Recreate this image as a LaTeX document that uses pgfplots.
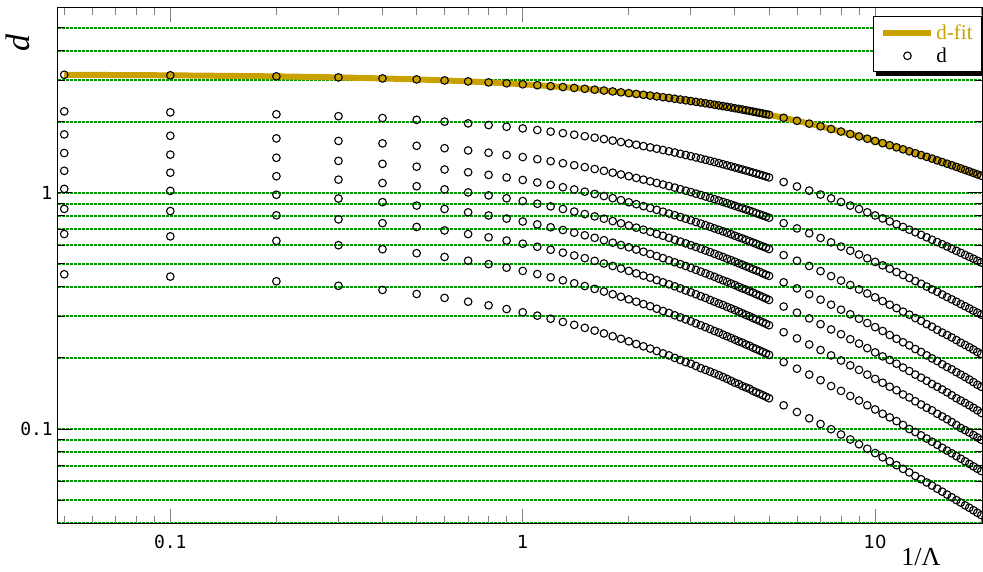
\documentclass[border=0pt]{standalone}
\usepackage{fontspec}
\setmainfont{Liberation Serif}
\newfontfamily\monofont{DejaVu Sans Mono}
\newfontfamily\labelsans{DejaVu Sans}
\usepackage{pgfplots}
\usepackage{pgfplotstable}
\pgfplotsset{compat=1.18}

\definecolor{dgold}{RGB}{201,162,0}
\definecolor{gridgreen}{RGB}{0,150,0}

% d for the nine levels (g = level fitted by d-fit)
\pgfplotstableread{
x g s2 s3 s4 s5 s6 s7 s8 s9
0.05 3.161 2.212 1.767 1.474 1.239 1.039 0.855 0.669 0.452
0.1 3.144 2.191 1.744 1.451 1.217 1.019 0.837 0.654 0.442
0.2 3.112 2.150 1.700 1.407 1.176 0.981 0.803 0.626 0.422
0.3 3.081 2.111 1.658 1.365 1.137 0.946 0.772 0.600 0.404
0.4 3.050 2.073 1.619 1.326 1.100 0.913 0.744 0.577 0.388
0.5 3.021 2.037 1.581 1.290 1.066 0.883 0.717 0.555 0.373
0.6 2.991 2.002 1.545 1.255 1.034 0.854 0.693 0.535 0.359
0.7 2.963 1.968 1.511 1.222 1.004 0.827 0.669 0.516 0.346
0.8 2.935 1.936 1.478 1.191 0.975 0.802 0.648 0.499 0.334
0.9 2.908 1.904 1.447 1.161 0.948 0.778 0.628 0.482 0.322
1.0 2.881 1.874 1.417 1.133 0.923 0.756 0.609 0.467 0.312
1.1 2.855 1.845 1.388 1.106 0.899 0.735 0.591 0.453 0.302
1.2 2.829 1.816 1.361 1.081 0.876 0.715 0.574 0.439 0.293
1.3 2.804 1.789 1.334 1.056 0.854 0.696 0.558 0.426 0.284
1.4 2.780 1.762 1.309 1.033 0.833 0.678 0.543 0.414 0.276
1.5 2.756 1.737 1.285 1.011 0.813 0.661 0.529 0.403 0.268
1.6 2.732 1.712 1.261 0.989 0.795 0.645 0.515 0.392 0.261
1.7 2.709 1.688 1.239 0.969 0.777 0.630 0.502 0.382 0.254
1.8 2.687 1.664 1.217 0.949 0.759 0.615 0.490 0.372 0.247
1.9 2.664 1.641 1.196 0.931 0.743 0.601 0.478 0.363 0.241
2.0 2.643 1.619 1.176 0.912 0.727 0.588 0.467 0.354 0.235
2.1 2.621 1.598 1.156 0.895 0.712 0.575 0.456 0.346 0.229
2.2 2.600 1.577 1.137 0.878 0.698 0.563 0.446 0.338 0.224
2.3 2.580 1.557 1.119 0.862 0.684 0.551 0.437 0.331 0.219
2.4 2.560 1.537 1.101 0.847 0.670 0.540 0.427 0.323 0.214
2.5 2.540 1.518 1.084 0.832 0.658 0.529 0.418 0.316 0.209
2.6 2.521 1.499 1.068 0.817 0.645 0.518 0.410 0.310 0.205
2.7 2.501 1.481 1.052 0.804 0.633 0.508 0.402 0.303 0.200
2.8 2.483 1.463 1.036 0.790 0.622 0.499 0.394 0.297 0.196
2.9 2.464 1.446 1.021 0.777 0.611 0.490 0.386 0.291 0.192
3.0 2.446 1.429 1.007 0.765 0.600 0.481 0.379 0.286 0.189
3.1 2.428 1.412 0.992 0.752 0.590 0.472 0.372 0.280 0.185
3.2 2.411 1.396 0.979 0.741 0.580 0.464 0.365 0.275 0.181
3.3 2.394 1.380 0.965 0.729 0.570 0.456 0.359 0.270 0.178
3.4 2.377 1.365 0.952 0.718 0.561 0.448 0.352 0.265 0.175
3.5 2.360 1.350 0.940 0.707 0.552 0.441 0.346 0.260 0.172
3.6 2.344 1.336 0.927 0.697 0.543 0.433 0.340 0.256 0.169
3.7 2.328 1.321 0.915 0.687 0.535 0.426 0.335 0.251 0.166
3.8 2.312 1.307 0.904 0.677 0.526 0.420 0.329 0.247 0.163
3.9 2.297 1.294 0.892 0.668 0.519 0.413 0.324 0.243 0.160
4.0 2.281 1.280 0.881 0.658 0.511 0.407 0.319 0.239 0.157
4.1 2.266 1.267 0.870 0.649 0.503 0.400 0.314 0.235 0.155
4.2 2.251 1.255 0.860 0.641 0.496 0.394 0.309 0.232 0.152
4.3 2.237 1.242 0.850 0.632 0.489 0.389 0.304 0.228 0.150
4.4 2.222 1.230 0.840 0.624 0.482 0.383 0.300 0.225 0.148
4.5 2.208 1.218 0.830 0.616 0.475 0.378 0.295 0.221 0.145
4.6 2.194 1.206 0.820 0.608 0.469 0.372 0.291 0.218 0.143
4.7 2.180 1.195 0.811 0.600 0.463 0.367 0.287 0.215 0.141
4.8 2.167 1.184 0.802 0.593 0.456 0.362 0.283 0.212 0.139
4.9 2.153 1.173 0.793 0.586 0.450 0.357 0.279 0.209 0.137
5.0 2.140 1.162 0.784 0.578 0.445 0.352 0.275 0.206 0.135
5.5 2.077 1.111 0.744 0.545 0.418 0.330 0.257 0.192 0.126
6.0 2.018 1.064 0.707 0.516 0.394 0.311 0.242 0.180 0.118
6.5 1.963 1.022 0.674 0.490 0.372 0.294 0.228 0.170 0.111
7.0 1.912 0.983 0.644 0.466 0.353 0.278 0.216 0.161 0.105
7.5 1.863 0.947 0.617 0.444 0.336 0.264 0.205 0.152 0.0998
8.0 1.817 0.914 0.592 0.425 0.320 0.252 0.195 0.145 0.0948
8.5 1.774 0.883 0.569 0.407 0.306 0.240 0.186 0.138 0.0903
9.0 1.733 0.854 0.548 0.390 0.293 0.230 0.178 0.132 0.0862
9.5 1.695 0.827 0.528 0.375 0.281 0.220 0.170 0.126 0.0825
10 1.658 0.802 0.510 0.361 0.270 0.211 0.163 0.121 0.0791
10.5 1.623 0.779 0.493 0.348 0.260 0.203 0.157 0.116 0.0759
11 1.590 0.757 0.477 0.336 0.250 0.196 0.151 0.112 0.0730
11.5 1.558 0.736 0.462 0.325 0.241 0.189 0.146 0.108 0.0703
12 1.528 0.717 0.449 0.314 0.233 0.182 0.140 0.104 0.0678
12.5 1.499 0.698 0.436 0.305 0.226 0.176 0.136 0.100 0.0655
13 1.472 0.681 0.423 0.295 0.218 0.170 0.131 0.0971 0.0633
13.5 1.445 0.664 0.412 0.287 0.212 0.165 0.127 0.0940 0.0613
14 1.420 0.648 0.401 0.278 0.205 0.160 0.123 0.0911 0.0594
14.5 1.396 0.633 0.390 0.271 0.199 0.155 0.120 0.0883 0.0576
15 1.372 0.619 0.381 0.263 0.194 0.151 0.116 0.0858 0.0559
15.5 1.350 0.606 0.371 0.256 0.188 0.147 0.113 0.0833 0.0543
16 1.328 0.593 0.362 0.250 0.183 0.143 0.110 0.0810 0.0528
16.5 1.308 0.580 0.354 0.244 0.179 0.139 0.107 0.0789 0.0514
17 1.288 0.568 0.346 0.238 0.174 0.135 0.104 0.0768 0.0500
17.5 1.268 0.557 0.338 0.232 0.170 0.132 0.101 0.0749 0.0488
18 1.250 0.546 0.331 0.227 0.166 0.129 0.0989 0.0730 0.0475
18.5 1.232 0.536 0.324 0.222 0.162 0.126 0.0966 0.0712 0.0464
19 1.214 0.526 0.317 0.217 0.158 0.123 0.0943 0.0695 0.0453
19.5 1.197 0.516 0.311 0.212 0.154 0.120 0.0921 0.0679 0.0442
20 1.181 0.507 0.305 0.208 0.151 0.117 0.0901 0.0664 0.0432
}\levels

\begin{document}
\begin{tikzpicture}
\path[use as bounding box] (-58pt,-48pt) rectangle (925pt,523pt);
\begin{axis}[
  at={(0pt,0pt)}, anchor=south west,
  scale only axis, width=924pt, height=515pt,
  xmode=log, ymode=log,
  xmin=0.048, xmax=20.1, ymin=0.04, ymax=6.06,
  xtick={0.1,1,10},
  xticklabels={{\monofont 0.1},{\labelsans 1},{\labelsans 10}},
  minor xtick={0.05,0.06,0.07,0.08,0.09,0.2,0.3,0.4,0.5,0.6,0.7,0.8,0.9,2,3,4,5,6,7,8,9,20},
  ytick={0.1,1},
  yticklabels={{\monofont 0.1},{\labelsans 1}},
  minor ytick={0.04,0.05,0.06,0.07,0.08,0.09,0.2,0.3,0.4,0.5,0.6,0.7,0.8,0.9,2,3,4,5},
  tick align=inside,
  major tick length=14pt, minor tick length=7pt,
  tick style={black, line width=0.9pt},
  every x tick/.append style={gray},
  axis line style={line width=1pt},
  ymajorgrids, yminorgrids,
  major grid style={gridgreen, line width=2pt, dash pattern=on 3pt off 1pt},
  minor grid style={gridgreen, line width=2pt, dash pattern=on 3pt off 1pt},
  xticklabel style={font=\fontsize{18}{20}\selectfont, inner sep=0pt, anchor=north, yshift=-12pt},
  yticklabel style={font=\fontsize{18}{20}\selectfont, inner sep=0pt, anchor=east, xshift=-5pt},
  xlabel={1/Λ},
  xlabel style={at={(axis description cs:0.934,-0.066)}, anchor=center, font=\fontsize{26}{28}\selectfont},
  ylabel={\textit{d}},
  ylabel style={at={(axis description cs:-0.043,0.932)}, anchor=center, font=\fontsize{34}{36}\selectfont},
  clip marker paths=true,
  legend style={name=lgd, at={(axis description cs:0.882,0.9845)}, anchor=north west,
    draw=black, line width=1pt, fill=white,
    font=\fontsize{21}{23}\selectfont, inner xsep=7pt, inner ysep=6pt,
    nodes={inner sep=2pt}, row sep=3pt},
  legend cell align=left,
]
\addplot[dgold, line width=6pt,
  legend image code/.code={\draw[dgold, line width=6pt] (0pt,0pt) -- (48pt,0pt);}]
  table[x=x, y=g] {\levels};
\addlegendentry{\textcolor{dgold}{d-fit}\hspace{12pt}}
\addplot[only marks, mark=o, mark size=3.8pt, mark options={black, line width=1.1pt},
  legend image code/.code={\path[draw=none] (0pt,0pt) -- (48pt,0pt);
    \draw[black, line width=1.1pt] (24pt,0pt) circle[radius=3.8pt];}]
  table[x=x, y=g] {\levels};
\addlegendentry{d}
\pgfplotsforeachungrouped \col in {s2,s3,s4,s5,s6,s7,s8,s9}{
  \addplot[only marks, mark=o, mark size=3.8pt, mark options={black, line width=1.1pt}, forget plot]
    table[x=x, y=\col] {\levels};
}
\end{axis}
% shadow of the legend box
\fill[black] ([xshift=3pt,yshift=-3.5pt]lgd.south west) rectangle ([xshift=3.5pt]lgd.south east);
\fill[black] (lgd.south east) rectangle ([xshift=3.5pt,yshift=-3pt]lgd.north east);
\end{tikzpicture}
\end{document}
